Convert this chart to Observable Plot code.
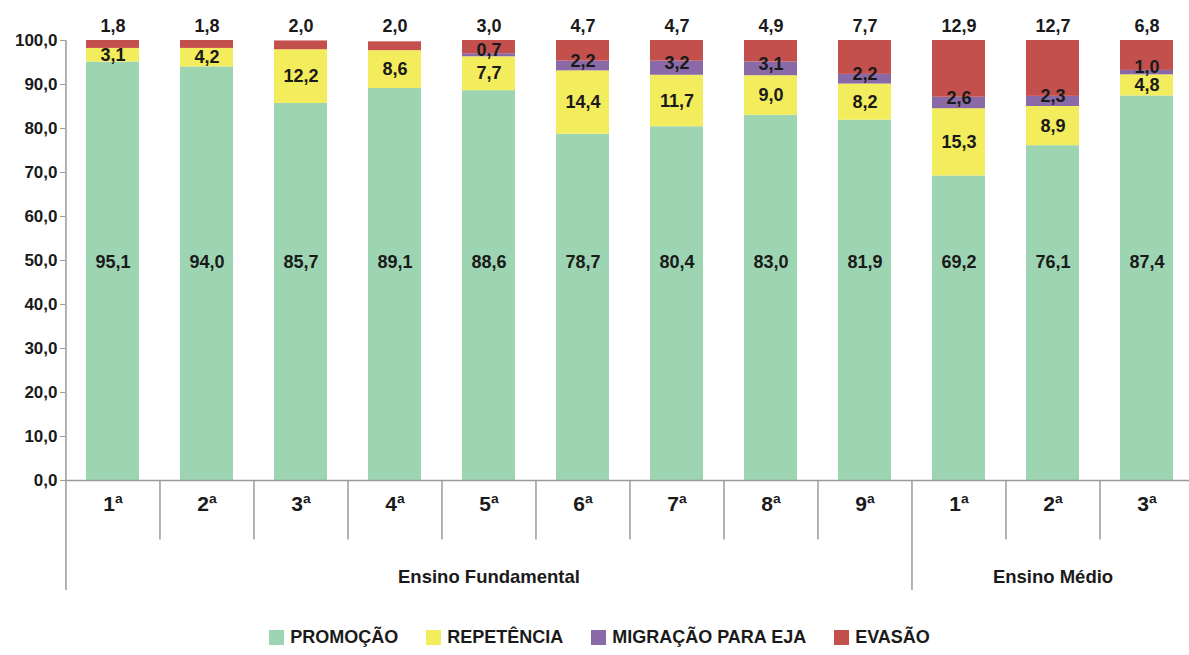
<!DOCTYPE html>
<html>
<head>
<meta charset="utf-8">
<script src="https://cdn.jsdelivr.net/npm/d3@7"></script>
<script src="https://cdn.jsdelivr.net/npm/@observablehq/plot@0.6"></script>
<style>
  html, body { margin: 0; padding: 0; background: #fff; }
  #chart svg { display: block; }
  .legend { display: flex; justify-content: center; align-items: center; gap: 28px;
    font-family: "Liberation Sans", Arial, sans-serif; font-weight: bold; font-size: 18px; color: #1a1a1a;
    height: 35px; margin-left: 10px; }
  .legend span.item { display: flex; align-items: center; gap: 6px; }
  .legend span.sw { display: inline-block; width: 15px; height: 15px; }
</style>
</head>
<body>
<div id="chart"></div>
<div class="legend" id="legend"></div>
<script>
// ---- data ----
const grades = ["1ª","2ª","3ª","4ª","5ª","6ª","7ª","8ª","9ª","1ª","2ª","3ª"];
const stages = ["Ensino Fundamental","Ensino Fundamental","Ensino Fundamental","Ensino Fundamental","Ensino Fundamental","Ensino Fundamental","Ensino Fundamental","Ensino Fundamental","Ensino Fundamental","Ensino Médio","Ensino Médio","Ensino Médio"];
const promocao   = [95.1, 94.0, 85.7, 89.1, 88.6, 78.7, 80.4, 83.0, 81.9, 69.2, 76.1, 87.4];
const repetencia = [3.1, 4.2, 12.2, 8.6, 7.7, 14.4, 11.7, 9.0, 8.2, 15.3, 8.9, 4.8];
const migracao   = [0, 0, 0, 0, 0.7, 2.2, 3.2, 3.1, 2.2, 2.6, 2.3, 1.0];
const evasao     = [1.8, 1.8, 2.0, 2.0, 3.0, 4.7, 4.7, 4.9, 7.7, 12.9, 12.7, 6.8];
const seriesNames = ["PROMOÇÃO", "REPETÊNCIA", "MIGRAÇÃO PARA EJA", "EVASÃO"];
const seriesColors = ["#9dd5b3", "#f3ec5c", "#8a6aa6", "#c4504e"];

// ---- derived table ----
const keys = grades.map((g, i) => stages[i] + " " + g);
const seriesValues = [promocao, repetencia, migracao, evasao];
const rows = [];
keys.forEach((k, i) => {
  let acc = 0;
  seriesValues.forEach((vals, s) => {
    const v = vals[i];
    rows.push({key: k, grade: grades[i], series: seriesNames[s], value: v, y1: acc, y2: acc + v, mid: acc + v / 2});
    acc += v;
  });
});
const fmt = v => v.toFixed(1).replace(".", ",");

const W = 1189, ML = 65, MR = -5;
const step = (W - ML - MR) / keys.length;
const font = '"Liberation Sans", Arial, sans-serif';
const grey = "#9a9a9a";
const ink = "#1a1a1a";

const groupStarts = keys.filter((k, i) => i > 0 && stages[i] !== stages[i - 1]);
const innerSeps = keys.filter((k, i) => i > 0 && stages[i] === stages[i - 1]);
const groupCenters = [...new Set(stages)].map(st => {
  const idx = stages.map((s, i) => s === st ? i : -1).filter(i => i >= 0);
  return {stage: st, first: keys[idx[0]], last: keys[idx[idx.length - 1]]};
});

const chart = Plot.plot({
  width: W, height: 620,
  marginLeft: ML, marginRight: MR, marginTop: 40, marginBottom: 140,
  style: {fontFamily: font, fontSize: "16.5px", fontWeight: "bold", color: ink, background: "#fff", overflow: "visible"},
  x: {domain: keys, paddingInner: 0.44, paddingOuter: 0.22, axis: null},
  y: {domain: [0, 100], ticks: 10, tickFormat: fmt, tickSize: 5, tickPadding: 3, label: null, grid: false},
  color: {domain: seriesNames, range: seriesColors},
  marks: [
    Plot.barY(rows, {x: "key", y1: "y1", y2: "y2", fill: "series"}),
    // axes lines
    Plot.ruleY([0], {stroke: grey, strokeWidth: 1.5}),
    Plot.ruleX([keys[0]], {dx: -step / 2, y1: 100, y2: -25, stroke: grey, strokeWidth: 1.5}),
    Plot.ruleX(innerSeps, {dx: -step / 2, y1: 0, y2: -13.5, stroke: grey, strokeWidth: 1.5}),
    Plot.ruleX(groupStarts, {dx: -step / 2, y1: 0, y2: -25, stroke: grey, strokeWidth: 1.5}),
    Plot.ruleX([keys[keys.length - 1]], {dx: step / 2, y1: 0, y2: -25, stroke: grey, strokeWidth: 1.5}),
    // value labels
    Plot.text(rows.filter(d => d.series === seriesNames[0]), {x: "key", y: 49.5, text: d => fmt(d.value), fontSize: 18, fontWeight: "bold", fill: ink}),
    Plot.text(rows.filter(d => d.series === seriesNames[1]), {x: "key", y: "mid", text: d => fmt(d.value), fontSize: 18, fontWeight: "bold", fill: ink}),
    Plot.text(rows.filter(d => d.series === seriesNames[2] && d.value > 0), {x: "key", y: "mid", dy: -5, text: d => fmt(d.value), fontSize: 18, fontWeight: "bold", fill: ink}),
    Plot.text(rows.filter(d => d.series === seriesNames[3]), {x: "key", y: 100, dy: -14, text: d => fmt(d.value), fontSize: 18, fontWeight: "bold", fill: ink}),
    // category labels
    Plot.text(keys, {x: d => d, y: -5.5, text: (d, i) => grades[i], fontSize: 21, fontWeight: "bold", fill: ink}),
    // group labels
    Plot.text(groupCenters, {x: d => keys[Math.round((keys.indexOf(d.first) + keys.indexOf(d.last)) / 2)], text: "stage", y: -22, fontSize: 18.5, fontWeight: "bold", fill: ink})
  ]
});
chart.querySelectorAll('[aria-label^="y-axis"]').forEach(g => { g.setAttribute("font-size", "17"); g.style.fontSize = "17px"; });
chart.querySelectorAll('[aria-label^="y-axis"] text').forEach(t => { t.setAttribute("font-size", "17"); t.style.fontSize = "17px"; t.setAttribute("fill", ink); });
chart.querySelectorAll('[aria-label^="y-axis"] line, [aria-label^="y-axis"] path').forEach(el => el.setAttribute("stroke", grey));
document.getElementById("chart").appendChild(chart);

const legend = document.getElementById("legend");
seriesNames.forEach((n, i) => {
  const item = document.createElement("span");
  item.className = "item";
  const sw = document.createElement("span");
  sw.className = "sw";
  sw.style.background = seriesColors[i];
  item.appendChild(sw);
  item.appendChild(document.createTextNode(n));
  legend.appendChild(item);
});
</script>
</body>
</html>
